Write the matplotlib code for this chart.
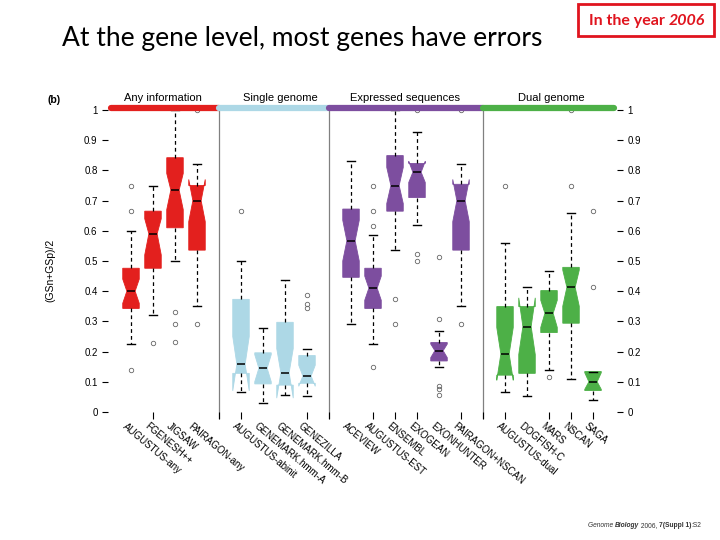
import matplotlib
matplotlib.use("Agg")
import matplotlib.pyplot as plt
from matplotlib.patches import Rectangle

plt.rcParams["font.family"] = ["Liberation Sans", "DejaVu Sans"]

# predictor names and the slot each box sits in (gaps between groups)
labels = ["AUGUSTUS-any", "FGENESH++", "JIGSAW", "PAIRAGON-any",
          "AUGUSTUS-abinit", "GENEMARK.hmm-A", "GENEMARK.hmm-B", "GENEZILLA",
          "ACEVIEW", "AUGUSTUS-EST", "ENSEMBL", "EXOGEAN", "EXONHUNTER", "PAIRAGON+NSCAN",
          "AUGUSTUS-dual", "DOGFISH-C", "MARS", "NSCAN", "SAGA"]
group_of = [0] * 4 + [1] * 4 + [2] * 6 + [3] * 5
slots = [0, 1, 2, 3, 5, 6, 7, 8, 10, 11, 12, 13, 14, 15, 17, 18, 19, 20, 21]

group_names = ["Any information", "Single genome", "Expressed sequences", "Dual genome"]
group_colors = ["#E3201E", "#ADD8E6", "#7D4E9F", "#4DB047"]

# box statistics, (GSn+GSp)/2
q1 = [0.343, 0.476, 0.610, 0.536, 0.128, 0.093, 0.089, 0.095,
      0.446, 0.343, 0.665, 0.710, 0.169, 0.536, 0.122, 0.128, 0.263, 0.294, 0.071]
medians = [0.400, 0.590, 0.735, 0.700, 0.158, 0.145, 0.130, 0.119,
           0.567, 0.410, 0.750, 0.794, 0.203, 0.700, 0.192, 0.283, 0.327, 0.413, 0.100]
q3 = [0.476, 0.665, 0.842, 0.750, 0.373, 0.196, 0.297, 0.187,
      0.672, 0.476, 0.849, 0.823, 0.230, 0.754, 0.349, 0.349, 0.402, 0.479, 0.134]
whislo = [0.225, 0.320, 0.500, 0.350, 0.067, 0.029, 0.056, 0.053,
          0.290, 0.224, 0.536, 0.619, 0.148, 0.351, 0.065, 0.053, 0.139, 0.108, 0.040]
whishi = [0.600, 0.750, 1.000, 0.820, 0.500, 0.277, 0.437, 0.210,
          0.831, 0.586, 1.000, 0.928, 0.268, 0.820, 0.560, 0.415, 0.468, 0.658, 0.134]
cilo = [0.360, 0.520, 0.670, 0.630, 0.070, 0.100, 0.046, 0.085,
        0.500, 0.370, 0.690, 0.760, 0.180, 0.630, 0.105, 0.190, 0.280, 0.350, 0.075]
cihi = [0.440, 0.640, 0.790, 0.770, 0.250, 0.190, 0.210, 0.155,
        0.635, 0.450, 0.810, 0.830, 0.225, 0.770, 0.280, 0.378, 0.370, 0.470, 0.130]
fliers = [[0.14, 0.665, 0.75], [0.228], [0.332, 0.29, 0.231], [0.29, 1.0],
          [0.665], [], [], [0.387, 0.357, 0.343],
          [], [0.15, 0.617, 0.665, 0.75], [0.374, 0.29], [0.523, 0.50, 1.0],
          [0.307, 0.086, 0.075, 0.056, 0.513], [0.29, 1.0],
          [0.75], [], [0.117], [0.75, 1.0], [0.415, 0.665]]

yticks = [0, 0.1, 0.2, 0.3, 0.4, 0.5, 0.6, 0.7, 0.8, 0.9, 1]
ytick_labels = ["0", "0.1", "0.2", "0.3", "0.4", "0.5", "0.6", "0.7", "0.8", "0.9", "1"]
tick_slots = [1, 4, 5, 8, 9, 11, 12, 13, 15, 16, 17, 19, 20, 21]

fig = plt.figure(figsize=(7.2, 5.4), dpi=100)
ax = fig.add_axes([108 / 720, 1 - 412 / 540, 509 / 720, 302 / 540])

stats = []
for i in range(len(labels)):
    stats.append({"med": medians[i], "q1": q1[i], "q3": q3[i],
                  "whislo": whislo[i], "whishi": whishi[i],
                  "cilo": cilo[i], "cihi": cihi[i], "fliers": fliers[i]})

bp = ax.bxp(stats, positions=slots, widths=0.75, shownotches=True, patch_artist=True,
            showfliers=True,
            medianprops={"color": "black", "linewidth": 1.1},
            whiskerprops={"color": "black", "linewidth": 0.9, "linestyle": (0, (3, 2.5))},
            capprops={"color": "black", "linewidth": 1.0},
            flierprops={"marker": "o", "markersize": 3.2, "markerfacecolor": "none",
                        "markeredgecolor": "#666666", "markeredgewidth": 0.6,
                        "linestyle": "none"})
for box, g in zip(bp["boxes"], group_of):
    box.set_facecolor(group_colors[g])
    box.set_edgecolor(group_colors[g])
    box.set_linewidth(0.6)

ax.set_xlim(-1.045, 22.09)
ax.set_ylim(0, 1)
for s in ax.spines.values():
    s.set_visible(False)

# group separators
for x in [4, 9, 16]:
    ax.plot([x, x], [-0.02, 1.0], color="#808080", linewidth=0.9, clip_on=False, zorder=0)

# coloured band along the top
spans = [(-0.9, 4), (4, 9), (9, 16), (16, 21.95)]
centres = [1.45, 6.77, 12.45, 19.1]
for (x0, x1), col, name, cx in zip(spans, group_colors, group_names, centres):
    ax.plot([x0, x1], [1.008, 1.008], color=col, linewidth=4.5,
            solid_capstyle="round", clip_on=False, zorder=3)
    ax.text(cx, 1.04, name, ha="center", va="center", fontsize=8, clip_on=False)

# y axes on both sides
ax.set_yticks(yticks)
ax.set_yticklabels(ytick_labels)
ax.tick_params(axis="y", which="major", length=4, width=0.8, pad=3.5, labelsize=7,
               left=True, right=True, labelleft=True, labelright=True)

# x: tick marks at some slots, rotated names under each box
ax.set_xticks([])
ax.set_xticks(tick_slots, minor=True)
ax.tick_params(axis="x", which="minor", length=5, width=0.8, direction="out")
for s, name in zip(slots, labels):
    ax.text(s - 0.18, -0.03, name, rotation=-40, rotation_mode="anchor",
            ha="left", va="top", fontsize=7, clip_on=False)

fig.text(48 / 720, 1 - 100 / 540, "(b)", fontsize=7.5, fontweight="bold", va="center")
fig.text(50 / 720, 1 - 270 / 540, "(GSn+GSp)/2", rotation=90, fontsize=7.5,
         ha="center", va="center")

# slide decorations
fig.text(62 / 720, 1 - 46 / 540, "At the gene level, most genes have errors",
         fontsize=19, family=["Lato", "DejaVu Sans"], va="baseline", ha="left")

fig.patches.append(Rectangle((578 / 720, 1 - 36 / 540), 136 / 720, 32 / 540,
                             transform=fig.transFigure, fill=False,
                             edgecolor="#E0141E", linewidth=2.0))


def rich_text(x, y, pieces, **kw):
    renderer = fig.canvas.get_renderer()
    for txt, style in pieces:
        t = fig.text(x, y, txt, va="baseline", ha="left", **style, **kw)
        bb = t.get_window_extent(renderer=renderer)
        x = bb.x1 / fig.bbox.width


rich_text(589 / 720, 1 - 25 / 540,
          [("In the year ", {"fontweight": "bold"}),
           ("2006", {"fontweight": "bold", "fontstyle": "italic"})],
          fontsize=11.5, color="#E0141E", family=["Lato", "DejaVu Sans"])

rich_text(588 / 720, 1 - 527 / 540,
          [("Genome ", {"fontstyle": "italic"}),
           ("Biology", {"fontweight": "bold", "fontstyle": "italic"}),
           (" 2006, ", {}),
           ("7(Suppl 1)", {"fontweight": "bold"}),
           (":S2", {})],
          fontsize=4.8, color="#333333")

fig.savefig("out.png", dpi=100)
